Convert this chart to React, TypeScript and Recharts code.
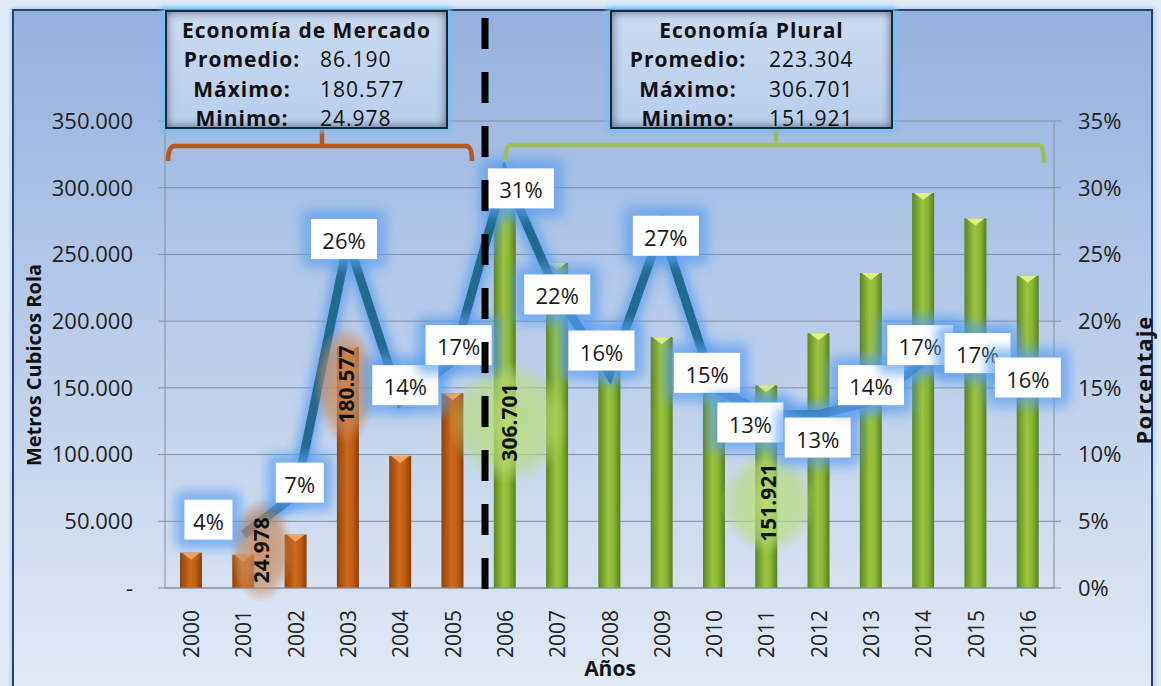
import React from 'react';
import { ComposedChart, Bar, Line, XAxis, YAxis, CartesianGrid, LabelList } from 'recharts';

// datos
const years = ['2000', '2001', '2002', '2003', '2004', '2005', '2006', '2007', '2008', '2009', '2010', '2011', '2012', '2013', '2014', '2015', '2016'];
const volumen = [26500, 24978, 40000, 180577, 99000, 146000, 306701, 243500, 166000, 188000, 162000, 151921, 191000, 236000, 296000, 277000, 234000];
const porcentaje = [null, 4, 7, 26, 14, 17, 31, 22, 16, 27, 15, 13, 13, 14, 17, 17, 16];
const etiquetasExtremos = [null, '24.978', null, '180.577', null, null, '306.701', null, null, null, null, '151.921', null, null, null, null, null];
const periodo = ['mercado', 'mercado', 'mercado', 'mercado', 'mercado', 'mercado', 'plural', 'plural', 'plural', 'plural', 'plural', 'plural', 'plural', 'plural', 'plural', 'plural', 'plural'];

const ticksVolumen = [0, 50000, 100000, 150000, 200000, 250000, 300000, 350000];
const ticksPorcentaje = [0, 5, 10, 15, 20, 25, 30, 35];

const resumenFilas = ['Promedio:', 'Máximo:', 'Minimo:'];
const resumenMercado = ['86.190', '180.577', '24.978'];
const resumenPlural = ['223.304', '306.701', '151.921'];

// desplazamiento manual de las etiquetas (como en Excel)
const nudgePct = [
  [0, 0], [-35, -15], [4, -12], [-4, -2], [5, -16], [6, -16], [16, 14], [0, 0], [-8, -24],
  [4, 8], [-7, -15], [-16, 8], [-1, 23], [0, -16], [-3, -16], [2, -8], [0, 3],
];
const nudgeBarra: Record<number, { dx: number; dy: number; rx: number; ry: number }> = {
  1: { dx: 18, dy: -21, rx: 32, ry: 52 },
  3: { dx: -2, dy: -83, rx: 32, ry: 60 },
  6: { dx: 4, dy: 39, rx: 60, ry: 62 },
  11: { dx: 2, dy: 16, rx: 48, ry: 52 },
};

const data = years.map((anio, i) => ({
  anio,
  volumen: volumen[i],
  porcentaje: porcentaje[i],
  etiqueta: etiquetasExtremos[i],
  periodo: periodo[i],
}));

const FONT = "'Open Sans', sans-serif";

const fmtVolumen = (v: number) => (v === 0 ? '-' : `${v / 1000}.000`);

const Barra = (props: any) => {
  const { x, y, width, height, payload } = props;
  if (!height) return null;
  const plural = payload.periodo === 'plural';
  return (
    <g>
      <rect x={x} y={y} width={width} height={height} fill={plural ? 'url(#gradVerde)' : 'url(#gradNaranja)'} />
      <polygon
        points={`${x + 2},${y} ${x + width - 2},${y} ${x + width / 2},${y + 7}`}
        fill={plural ? '#dff08a' : '#f6a458'}
      />
    </g>
  );
};

const EtiquetaBarra = (props: any) => {
  const { x, y, width, height, value, index } = props;
  if (!value) return null;
  const n = nudgeBarra[index] || { dx: 0, dy: 0, rx: 40, ry: 40 };
  const cx = x + width / 2 + n.dx;
  const cy = y + height / 2 + n.dy;
  const plural = periodo[index] === 'plural';
  return (
    <g>
      <ellipse cx={cx} cy={cy} rx={n.rx} ry={n.ry} fill={plural ? 'url(#brilloVerde)' : 'url(#brilloNaranja)'} />
      <text
        x={cx}
        y={cy}
        transform={`rotate(-90 ${cx} ${cy})`}
        textAnchor="middle"
        dominantBaseline="central"
        fontFamily={FONT}
        fontWeight={700}
        fontSize={21}
        fill="#111"
      >
        {value}
      </text>
    </g>
  );
};

const EtiquetaPct = (props: any) => {
  const { x, y, value, index } = props;
  if (value == null) return null;
  const [dx, dy] = nudgePct[index];
  const txt = `${value}%`;
  const w = txt.length === 2 ? 48 : 66;
  const h = 40;
  const cx = x + dx;
  const cy = y + dy;
  return (
    <g>
      <rect x={cx - w / 2 - 9} y={cy - h / 2 - 9} width={w + 18} height={h + 18} rx={6} fill="#5a9ff0" opacity={0.7} filter="url(#difuso)" />
      <rect x={cx - w / 2} y={cy - h / 2} width={w} height={h} fill="#ffffff" />
      <text x={cx} y={cy + 1} textAnchor="middle" dominantBaseline="central" fontFamily={FONT} fontSize={22} fill="#1a1a1a">
        {txt}
      </text>
    </g>
  );
};

const TickAnio = (props: any) => {
  const { x, y, payload } = props;
  const ty = y + 14;
  return (
    <text x={x} y={ty} transform={`rotate(-90 ${x} ${ty})`} textAnchor="end" dominantBaseline="central" fontFamily={FONT} fontSize={21} fill="#222">
      {payload.value}
    </text>
  );
};

const Caja = ({ left, titulo, valores, colLabel, colValor }: any) => (
  <div
    style={{
      position: 'absolute',
      left,
      top: 10,
      width: 283,
      height: 119,
      boxSizing: 'border-box',
      border: '2px solid #1d2633',
      background: 'linear-gradient(#cbdbf1, #b8ceec)',
      boxShadow: '0 0 5px 3px rgba(110,195,245,0.9), inset 0 0 10px rgba(15,25,45,0.6)',
      fontFamily: FONT,
      color: '#111',
      fontSize: 21,
      letterSpacing: 1,
    }}
  >
    <div style={{ position: 'absolute', left: 0, right: 0, top: 3, height: 30, lineHeight: '30px', textAlign: 'center', fontWeight: 700 }}>{titulo}</div>
    {resumenFilas.map((f, i) => (
      <React.Fragment key={f}>
        <div style={{ position: 'absolute', left: colLabel - 70, width: 140, top: 32 + i * 29.5, height: 30, lineHeight: '30px', textAlign: 'center', fontWeight: 700 }}>{f}</div>
        <div style={{ position: 'absolute', left: colValor, top: 32 + i * 29.5, height: 30, lineHeight: '30px' }}>{valores[i]}</div>
      </React.Fragment>
    ))}
  </div>
);

export default function App() {
  return (
    <div style={{ position: 'fixed', left: 0, top: 0, width: 1161, height: 686, overflow: 'hidden', background: '#e0eaf7' }}>
      <style>{`.recharts-line-curve { filter: url(#brillo); }`}</style>
      <svg width={0} height={0} style={{ position: 'absolute' }}>
        <defs>
          <linearGradient id="gradNaranja" x1="0" y1="0" x2="1" y2="0">
            <stop offset="0%" stopColor="#8f430b" />
            <stop offset="45%" stopColor="#cd6a1c" />
            <stop offset="70%" stopColor="#c45f15" />
            <stop offset="100%" stopColor="#8a3f0a" />
          </linearGradient>
          <linearGradient id="gradVerde" x1="0" y1="0" x2="1" y2="0">
            <stop offset="0%" stopColor="#5b8524" />
            <stop offset="45%" stopColor="#9cc440" />
            <stop offset="70%" stopColor="#8cb635" />
            <stop offset="100%" stopColor="#56801f" />
          </linearGradient>
          <radialGradient id="brilloNaranja">
            <stop offset="0%" stopColor="#c98a5c" stopOpacity={0.9} />
            <stop offset="70%" stopColor="#c98a5c" stopOpacity={0.6} />
            <stop offset="100%" stopColor="#c98a5c" stopOpacity={0} />
          </radialGradient>
          <radialGradient id="brilloVerde">
            <stop offset="0%" stopColor="#b9dc7a" stopOpacity={0.9} />
            <stop offset="70%" stopColor="#b9dc7a" stopOpacity={0.6} />
            <stop offset="100%" stopColor="#b9dc7a" stopOpacity={0} />
          </radialGradient>
          <filter id="brillo" x="-10%" y="-20%" width="120%" height="140%">
            <feGaussianBlur in="SourceAlpha" stdDeviation="7" result="b" />
            <feFlood floodColor="#5a9df0" floodOpacity="0.95" />
            <feComposite in2="b" operator="in" result="g" />
            <feMerge>
              <feMergeNode in="g" />
              <feMergeNode in="g" />
              <feMergeNode in="SourceGraphic" />
            </feMerge>
          </filter>
          <filter id="difuso" x="-50%" y="-50%" width="200%" height="200%">
            <feGaussianBlur stdDeviation="6" />
          </filter>
        </defs>
      </svg>

      {/* marco */}
      <div
        style={{
          position: 'absolute',
          left: 12,
          top: 9,
          width: 1141,
          height: 700,
          boxSizing: 'border-box',
          border: '2px solid #28416f',
          background: 'linear-gradient(to bottom, #96b1de 0%, #b4c8e8 40%, #e4ebf6 100%)',
          boxShadow: '0 0 4px 1px #a9c6ee',
        }}
      />

      <div style={{ position: 'absolute', left: 0, top: 0 }}>
        <ComposedChart width={1161} height={686} data={data} margin={{ top: 121, right: 0, bottom: 0, left: 0 }} barCategoryGap={0}>
          <CartesianGrid yAxisId="vol" vertical={false} stroke="#878f9d" />
          <XAxis dataKey="anio" height={98} stroke="#878f9d" tickLine={false} tick={<TickAnio />} interval={0} />
          <YAxis
            yAxisId="vol"
            width={165}
            domain={[0, 350000]}
            ticks={ticksVolumen}
            tickFormatter={fmtVolumen}
            stroke="#878f9d"
            tickSize={7}
            tickMargin={25}
            tick={{ fill: '#222', fontSize: 22, fontFamily: FONT }}
            interval={0}
          />
          <YAxis
            yAxisId="pct"
            orientation="right"
            width={107}
            domain={[0, 35]}
            ticks={ticksPorcentaje}
            tickFormatter={(v: number) => `${v}%`}
            stroke="#878f9d"
            tickSize={7}
            tickMargin={17}
            tick={{ fill: '#222', fontSize: 22, fontFamily: FONT }}
            interval={0}
          />
          <Bar yAxisId="vol" dataKey="volumen" barSize={22} shape={<Barra />} isAnimationActive={false}>
            <LabelList dataKey="etiqueta" content={<EtiquetaBarra />} />
          </Bar>
          <Line
            yAxisId="pct"
            dataKey="porcentaje"
            stroke="#246b90"
            strokeWidth={9}
            dot={false}
            activeDot={false}
            isAnimationActive={false}
          >
            <LabelList dataKey="porcentaje" content={<EtiquetaPct />} />
          </Line>
        </ComposedChart>
      </div>

      {/* anotaciones */}
      <svg width={1161} height={686} style={{ position: 'absolute', left: 0, top: 0, pointerEvents: 'none' }}>
        <line x1={485} y1={18} x2={485} y2={592} stroke="#000" strokeWidth={7} strokeDasharray="31 23" />
        <path d="M168,161 Q168,146 175,146 L466,146 Q472,146 472,161 M322,146 L322,129" fill="none" stroke="#b4581b" strokeWidth={4.5} />
        <path d="M505,161 Q505,145 512,145 L1038,145 Q1044,145 1044,163 M776,145 L776,129" fill="none" stroke="#9cbf5a" strokeWidth={4.5} />
        <text x={33} y={365} transform="rotate(-90 33 365)" textAnchor="middle" dominantBaseline="central" fontFamily={FONT} fontWeight={700} fontSize={20} fill="#111">
          Metros Cubicos Rola
        </text>
        <text x={1143} y={380} transform="rotate(-90 1143 380)" textAnchor="middle" dominantBaseline="central" fontFamily={FONT} fontWeight={700} fontSize={22} letterSpacing={1} fill="#111">
          Porcentaje
        </text>
        <text x={610} y={668} textAnchor="middle" dominantBaseline="central" fontFamily={FONT} fontWeight={700} fontSize={21} fill="#111">
          Años
        </text>
      </svg>

      <Caja left={165} titulo="Economía de Mercado" valores={resumenMercado} colLabel={75} colValor={153} />
      <Caja left={610} titulo="Economía Plural" valores={resumenPlural} colLabel={76} colValor={157} />
    </div>
  );
}
